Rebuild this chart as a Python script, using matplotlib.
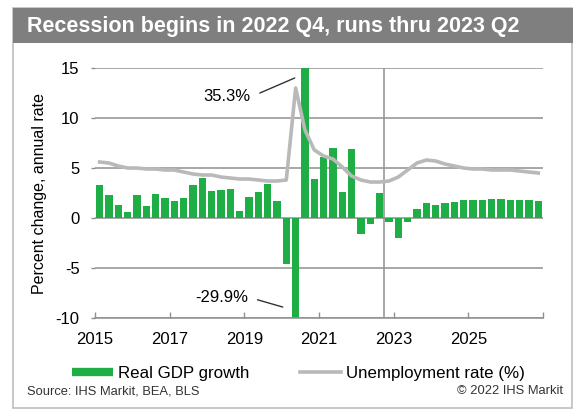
import numpy as np
import matplotlib.pyplot as plt
from matplotlib.patches import Rectangle
from matplotlib.lines import Line2D

plt.rcParams['font.family'] = ['Liberation Sans', 'DejaVu Sans']

# quarterly data, 2015Q1 .. 2026Q4
start_year = 2015
gdp_growth = [3.3, 2.3, 1.3, 0.6, 2.3, 1.2, 2.4, 2.0,
              1.7, 2.0, 3.3, 4.0, 2.7, 2.8, 2.9, 0.7,
              2.1, 2.6, 3.4, 1.7, -4.6, -29.9, 35.3, 3.9,
              6.1, 7.0, 2.6, 6.9, -1.6, -0.6, 2.5, -0.4,
              -2.0, -0.4, 0.9, 1.5, 1.3, 1.5, 1.6, 1.8,
              1.8, 1.8, 1.9, 1.9, 1.85, 1.85, 1.85, 1.7]
unemployment = [5.6, 5.5, 5.2, 5.0, 5.0, 4.9, 4.9, 4.8,
                4.8, 4.6, 4.4, 4.3, 4.3, 4.1, 4.0, 3.9,
                3.9, 3.8, 3.7, 3.7, 3.8, 13.0, 8.8, 6.8,
                6.2, 5.9, 5.1, 4.2, 3.8, 3.6, 3.6, 3.7,
                4.1, 4.8, 5.5, 5.8, 5.7, 5.4, 5.2, 5.0,
                4.9, 4.9, 4.8, 4.8, 4.8, 4.7, 4.6, 4.5]
year_ticks = [2015, 2017, 2019, 2021, 2023, 2025, 2027]
year_labels = ['2015', '2017', '2019', '2021', '2023', '2025', '']
recession_start = 2022.75

green = '#1fae45'
line_grey = '#b9b9b9'
grid_grey = '#8f8f8f'

x = start_year + 0.25 * np.arange(len(gdp_growth)) + 0.125

fig = plt.figure(figsize=(5.77, 4.12), dpi=100)

# frame and title band
fig.patches.append(Rectangle((0.0225, 0.0097), 0.969, 0.971, transform=fig.transFigure,
                             facecolor='white', edgecolor='#bdbdbd', lw=1.2, zorder=-2))
fig.patches.append(Rectangle((0.0225, 0.8956), 0.971, 0.085, transform=fig.transFigure,
                             facecolor='#7f7f7f', edgecolor='none', zorder=-1))
fig.text(0.047, 0.9345, 'Recession begins in 2022 Q4, runs thru 2023 Q2',
         color='white', fontsize=15.5, fontweight='bold', va='center', ha='left')

ax = fig.add_axes([0.1646, 0.228, 0.7764, 0.607])
ax.set_zorder(2)
ax.set_facecolor('none')
ax.bar(x, gdp_growth, width=0.19, color=green, zorder=2)
ax.plot(x, unemployment, color=line_grey, lw=2.6, zorder=3)
ax.axvline(recession_start, color=grid_grey, lw=1.1, zorder=1)

ax.set_xlim(2015, 2027)
ax.set_ylim(-10, 15)
ax.set_yticks([-10, -5, 0, 5, 10, 15])
ax.set_yticklabels(['-10', '-5', '0', '5', '10', '15'])
ax.set_xticks(year_ticks)
ax.set_xticklabels(year_labels)
ax.yaxis.grid(True, color=grid_grey, lw=1.1, zorder=0)
ax.set_axisbelow(True)
for s in ['top', 'right', 'left']:
    ax.spines[s].set_visible(False)
ax.spines['bottom'].set_color(grid_grey)
ax.spines['bottom'].set_linewidth(1.1)
ax.tick_params(axis='x', direction='in', length=4, width=1, color=grid_grey,
               labelsize=12, pad=10)
ax.tick_params(axis='y', direction='out', length=3, width=1, color=grid_grey,
               labelsize=12, pad=8)
ax.set_ylabel('Percent change, annual rate', fontsize=11.5, labelpad=6)

ax.annotate('35.3%', xy=(2020.35, 14.0), xytext=(2019.17, 12.1),
            ha='right', va='center', fontsize=12,
            arrowprops=dict(arrowstyle='-', color='#333333', lw=1,
                            relpos=(1, 0.5), shrinkA=5, shrinkB=0))
ax.annotate('-29.9%', xy=(2020.03, -8.9), xytext=(2019.10, -7.9),
            ha='right', va='center', fontsize=12,
            arrowprops=dict(arrowstyle='-', color='#333333', lw=1,
                            relpos=(1, 0.5), shrinkA=5, shrinkB=0))

handles = [Line2D([], [], color=green, lw=6, solid_capstyle='butt'),
           Line2D([], [], color=line_grey, lw=2.6)]
fig.legend(handles, ['Real GDP growth', 'Unemployment rate (%)'],
           loc='center', bbox_to_anchor=(0.517, 0.094), ncol=2, frameon=False,
           fontsize=12.2, handlelength=2.4, handletextpad=0.3, columnspacing=3.0,
           borderpad=0.2)

fig.text(0.047, 0.05, 'Source: IHS Markit, BEA, BLS', fontsize=9.3,
         color='#333333', va='center', ha='left')
fig.text(0.976, 0.05, '\u00a9 2022 IHS Markit', fontsize=9.3,
         color='#333333', va='center', ha='right')

fig.savefig('out.png', dpi=100)
